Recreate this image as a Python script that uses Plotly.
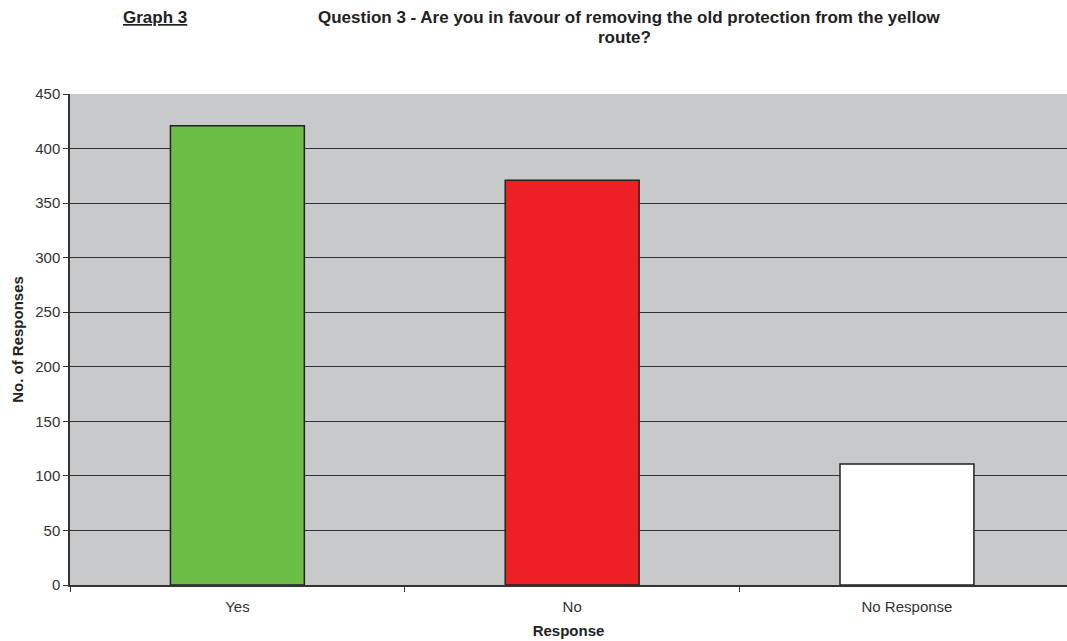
import plotly.graph_objects as go

# Survey responses for question 3
categories = ["Yes", "No", "No Response"]
responses = [421, 371, 111]
bar_colors = ["#6abd45", "#ed2024", "#ffffff"]
y_ticks = [0, 50, 100, 150, 200, 250, 300, 350, 400, 450]

FONT = "Liberation Sans, Arial, sans-serif"

W, H = 1067, 641
ML, MR, MT, MB = 70, 0, 94, 56
plot_w = W - ML - MR
plot_h = H - MT - MB


def px_to_paper(px, py):
    """Convert pixel coordinates (from top-left) to paper coordinates."""
    return (px - ML) / plot_w, (H - py - MB) / plot_h


fig = go.Figure()
fig.add_trace(go.Bar(
    x=categories,
    y=responses,
    width=0.4,
    marker=dict(color=bar_colors, line=dict(color="#222222", width=1.5)),
    hoverinfo="x+y",
))

g_x, g_y = px_to_paper(155, 18)
q1_x, q1_y = px_to_paper(629, 18)
q2_x, q2_y = px_to_paper(624, 38)

fig.update_layout(
    width=W,
    height=H,
    margin=dict(l=ML, r=MR, t=MT, b=MB),
    paper_bgcolor="white",
    plot_bgcolor="#c8c9cb",
    showlegend=False,
    font=dict(family=FONT, size=15, color="#222222"),
    xaxis=dict(
        type="category",
        range=[-0.5, 2.478],
        tickson="boundaries",
        ticks="outside",
        ticklen=5,
        tickcolor="#333333",
        showline=True,
        linecolor="#333333",
        linewidth=1.5,
        showgrid=False,
        ticklabelstandoff=7,
        tickfont=dict(size=15, color="#333333"),
        title=dict(text="<b>Response</b>", font=dict(size=15, color="#222222"), standoff=12),
    ),
    yaxis=dict(
        range=[0, 450],
        tickvals=y_ticks,
        ticks="outside",
        ticklen=5,
        tickcolor="#333333",
        showline=True,
        linecolor="#333333",
        linewidth=1.5,
        showgrid=True,
        gridcolor="#333333",
        gridwidth=1,
        zeroline=False,
        tickfont=dict(size=15, color="#333333"),
        title=dict(text="<b>No. of Responses</b>", font=dict(size=15, color="#222222"), standoff=8),
    ),
    annotations=[
        dict(text="<b><u>Graph 3</u></b>", x=g_x, y=g_y),
        dict(text="<b>Question 3 - Are you in favour of removing the old protection from the yellow</b>",
             x=q1_x, y=q1_y),
        dict(text="<b>route?</b>", x=q2_x, y=q2_y),
    ],
)
fig.update_annotations(
    xref="paper", yref="paper", xanchor="center", yanchor="middle",
    showarrow=False, font=dict(size=17, color="#222222"),
)

fig.write_html("out.html")
